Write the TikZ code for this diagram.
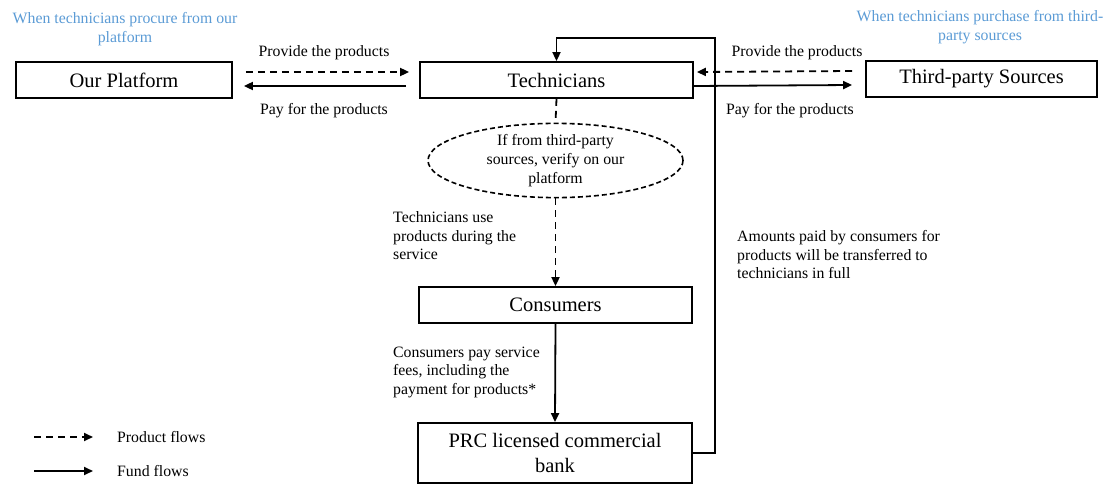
\documentclass[tikz,border=0pt]{standalone}
\usepackage{fontspec}
\setmainfont{Liberation Serif}
\usetikzlibrary{arrows.meta,shapes.geometric}
\definecolor{noteblue}{RGB}{91,155,213}
\tikzset{
  box/.style={draw, line width=1.8pt, rectangle, inner sep=0pt,
    minimum height=36pt, font=\fontsize{20.5}{25}\selectfont, align=center},
  lbl/.style={inner sep=0pt, font=\fontsize{15.8}{18.5}\selectfont},
  note/.style={lbl, text=noteblue, align=center},
  tip/.style={-{Triangle[length=9pt,width=8pt]}},
  prod/.style={line width=1.8pt, dash pattern=on 7pt off 5pt, tip},
  fund/.style={line width=1.8pt, tip},
}
\begin{document}
\begin{tikzpicture}[x=1pt,y=-1pt]
\useasboundingbox (0,0) rectangle (1111,484);

% participants
\node[box, minimum width=216pt] (plat) at (124,80) {Our Platform};
\node[box, minimum width=273pt] (tech) at (556.5,80) {Technicians};
\node[box, minimum width=231pt] (third) at (981.5,79) {Third-party Sources};
\node[box, minimum width=273pt] (cons) at (555.5,305) {Consumers};
\node[box, minimum width=274pt, minimum height=60pt] (bank) at (555,453)
  {PRC licensed commercial\\bank};
\node[ellipse, draw, line width=1.6pt, dash pattern=on 5pt off 3pt,
  minimum width=255pt, minimum height=69pt, inner sep=0pt, align=center,
  font=\fontsize{15.8}{19}\selectfont] (ell) at (555.5,160.5)
  {If from third-party\\sources, verify on our\\platform};

% scenario notes
\node[note] (noteL) at (125,29) {When technicians procure from our\\platform};
\node[note] (noteR) at (980,27) {When technicians purchase from third-\\party sources};

% platform <-> technicians
\draw[prod] ([shift={(13pt,8pt)}]plat.east) -- ([shift={(-10pt,8pt)}]tech.west);
\draw[fund] ([shift={(-13pt,-6pt)}]tech.west) -- ([shift={(11pt,-6pt)}]plat.east);
\node[lbl] (provL) at (324,53) {Provide the products};
\node[lbl] (payL) at (324,111) {Pay for the products};

% third-party <-> technicians
\draw[prod] ([shift={(-13pt,8pt)}]third.west) -- ([shift={(3pt,8pt)}]tech.east);
\draw[fund] ([yshift=-6pt]tech.east) -- ([shift={(-13pt,-6pt)}]third.west);
\node[lbl] (provR) at (797,53) {Provide the products};
\node[lbl] (payR) at (790,111) {Pay for the products};

% product flow to consumers
\draw[line width=1.8pt, dash pattern=on 7pt off 5pt] (tech.south) -- (ell.north);
\draw[prod] (ell.south) -- (cons.north);
\node[lbl, anchor=west, align=left] (useL) at (393,236)
  {Technicians use\\products during the\\service};

% fund flows
\draw[fund] (cons.south) -- (bank.north);
\node[lbl, anchor=west, align=left] (payC) at (393,372)
  {Consumers pay service\\fees, including the\\payment for products*};
\coordinate (loopR) at (715,38);
\draw[fund] (bank.east) -| (loopR) -| (tech.north);
\node[lbl, anchor=west, align=left] (transfer) at (737,255)
  {Amounts paid by consumers for\\products will be transferred to\\technicians in full};

% legend
\coordinate (lgA1) at (34,437);
\coordinate (lgA2) at (93,437);
\coordinate (lgB1) at (34,471);
\coordinate (lgB2) at (93,471);
\draw[prod] (lgA1) -- (lgA2);
\draw[fund] (lgB1) -- (lgB2);
\node[lbl, anchor=west] (lgA) at (117,437) {Product flows};
\node[lbl, anchor=west] (lgB) at (117,471) {Fund flows};
\end{tikzpicture}
\end{document}
